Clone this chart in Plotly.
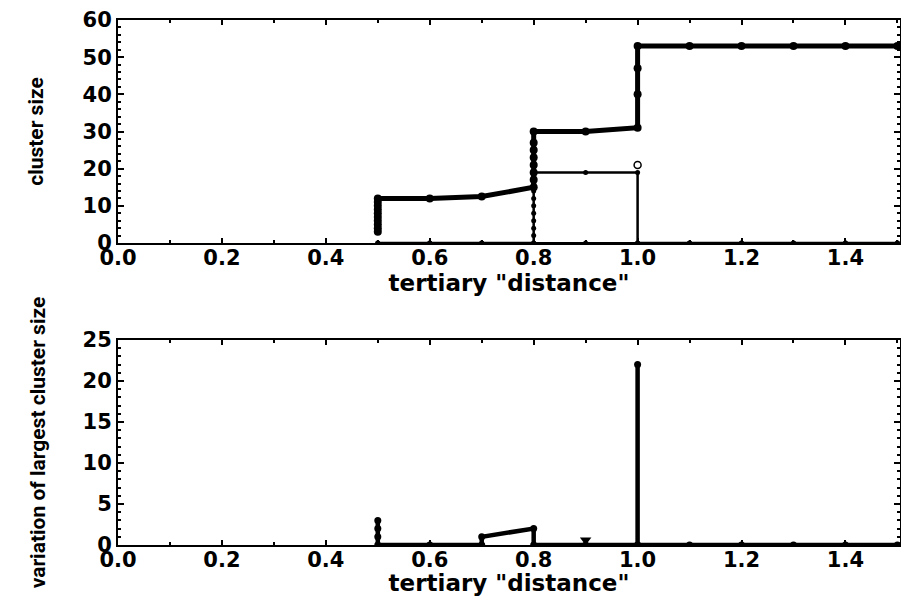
import plotly.graph_objects as go

# ---- top panel data (cluster size vs tertiary "distance") ----
largest_x = [0.5, 0.5, 0.5, 0.5, 0.5, 0.5, 0.5, 0.5, 0.5, 0.5,
             0.6, 0.7, 0.8, 0.8, 0.8, 0.8, 0.8, 0.8, 0.8, 0.8,
             0.9, 1.0, 1.0, 1.0, 1.0, 1.1, 1.2, 1.3, 1.4, 1.5]
largest_y = [3, 4, 5, 6, 7, 8, 9, 10, 11, 12,
             12, 12.5, 15, 17, 19, 21, 23, 25, 27, 30,
             30, 31, 40, 47, 53, 53, 53, 53, 53, 53]

second_x = [0.5, 0.6, 0.7, 0.8, 0.8, 0.8, 0.8, 0.8, 0.8, 0.8, 0.8, 0.8, 0.8, 0.8,
            0.9, 1.0, 1.0, 1.1, 1.2, 1.3, 1.4, 1.5]
second_y = [0, 0, 0, 0, 2, 4, 6, 8, 10, 12, 14, 16, 18, 19,
            19, 19, 0, 0, 0, 0, 0, 0]

third_x = [0.5, 0.6, 0.7, 0.8, 0.9, 1.0, 1.1, 1.2, 1.3, 1.4, 1.5]
third_y = [0, 0, 0, 0, 0, 0, 0, 0, 0, 0, 0]

open_x = [1.0]
open_y = [21]

# ---- bottom panel data (variation of largest cluster size) ----
var_x = [0.5, 0.5, 0.5, 0.5, 0.6, 0.7, 0.7, 0.8, 0.8, 0.9, 1.0, 1.0, 1.0,
         1.1, 1.2, 1.3, 1.4, 1.5]
var_y = [3, 2, 1, 0, 0, 0, 1, 2, 0, 0, 0, 22, 0,
         0, 0, 0, 0, 0]
tri_x = [0.9]
tri_y = [0.6]

x_ticks = [0.0, 0.2, 0.4, 0.6, 0.8, 1.0, 1.2, 1.4]
x_ticklabels = ["0.0", "0.2", "0.4", "0.6", "0.8", "1.0", "1.2", "1.4"]
top_yticks = [0, 10, 20, 30, 40, 50, 60]
bot_yticks = [0, 5, 10, 15, 20, 25]

x_title = 'tertiary "distance"'
top_ytitle = "cluster size"
bot_ytitle = "variation of largest cluster size"

W, H = 901, 596
xdom = [118 / W, 900 / W]
top_dom = [(H - 243) / H, (H - 20) / H]
bot_dom = [(H - 545) / H, (H - 340) / H]

TICKFONT = dict(family="DejaVu Sans", size=21, color="black", weight="bold")
XTITLEFONT = dict(family="DejaVu Sans", size=23, color="black", weight="bold")
YTITLEFONT = dict(family="Roboto", size=21, color="black", weight="bold")

fig = go.Figure()

fig.add_trace(go.Scatter(x=third_x, y=third_y, mode="lines+markers",
                         line=dict(color="black", width=2), marker=dict(size=5, color="black"),
                         xaxis="x", yaxis="y", showlegend=False))
fig.add_trace(go.Scatter(x=second_x, y=second_y, mode="lines+markers",
                         line=dict(color="black", width=2.5), marker=dict(size=5, color="black"),
                         xaxis="x", yaxis="y", showlegend=False))
fig.add_trace(go.Scatter(x=largest_x, y=largest_y, mode="lines+markers",
                         line=dict(color="black", width=5), marker=dict(size=8, color="black"),
                         xaxis="x", yaxis="y", showlegend=False))
fig.add_trace(go.Scatter(x=open_x, y=open_y, mode="markers",
                         marker=dict(size=7, color="white", symbol="circle",
                                     line=dict(color="black", width=1.5)),
                         xaxis="x", yaxis="y", showlegend=False))

fig.add_trace(go.Scatter(x=var_x, y=var_y, mode="lines+markers",
                         line=dict(color="black", width=4.5), marker=dict(size=7, color="black"),
                         xaxis="x2", yaxis="y2", showlegend=False))
fig.add_trace(go.Scatter(x=tri_x, y=tri_y, mode="markers",
                         marker=dict(size=10, color="black", symbol="triangle-down"),
                         xaxis="x2", yaxis="y2", showlegend=False))

common_x = dict(domain=xdom, range=[0, 1.505], tickmode="array", tickvals=x_ticks,
                ticktext=x_ticklabels, ticks="inside", ticklen=5, tickwidth=1.5,
                tickcolor="black", showline=True, linecolor="black", linewidth=2,
                mirror="ticks", showgrid=False, zeroline=False, tickfont=TICKFONT,
                automargin=False, ticklabelstandoff=-5,
                minor=dict(ticks="inside", ticklen=3, dtick=0.1, tickcolor="black"),
                title=dict(text=x_title, font=XTITLEFONT, standoff=0))
common_y = dict(ticks="inside", ticklen=6, tickwidth=1.5, tickcolor="black",
                showline=True, linecolor="black", linewidth=2, mirror="ticks",
                showgrid=False, zeroline=False, tickfont=TICKFONT, automargin=False)

fig.update_layout(
    width=W, height=H,
    margin=dict(l=0, r=0, t=0, b=0),
    paper_bgcolor="white", plot_bgcolor="white",
    xaxis=dict(anchor="y", **common_x),
    xaxis2=dict(anchor="y2", **common_x),
    yaxis=dict(anchor="x", domain=top_dom, range=[0, 60], tickvals=top_yticks,
               minor=dict(ticks="inside", ticklen=3, dtick=2, tickcolor="black"),
               title=dict(text=top_ytitle, font=YTITLEFONT, standoff=33), **common_y),
    yaxis2=dict(anchor="x2", domain=bot_dom, range=[0, 25], tickvals=bot_yticks,
                minor=dict(ticks="inside", ticklen=3, dtick=1, tickcolor="black"),
                title=dict(text=bot_ytitle, font=YTITLEFONT, standoff=31), **common_y),
)

fig.write_html("out.html")
